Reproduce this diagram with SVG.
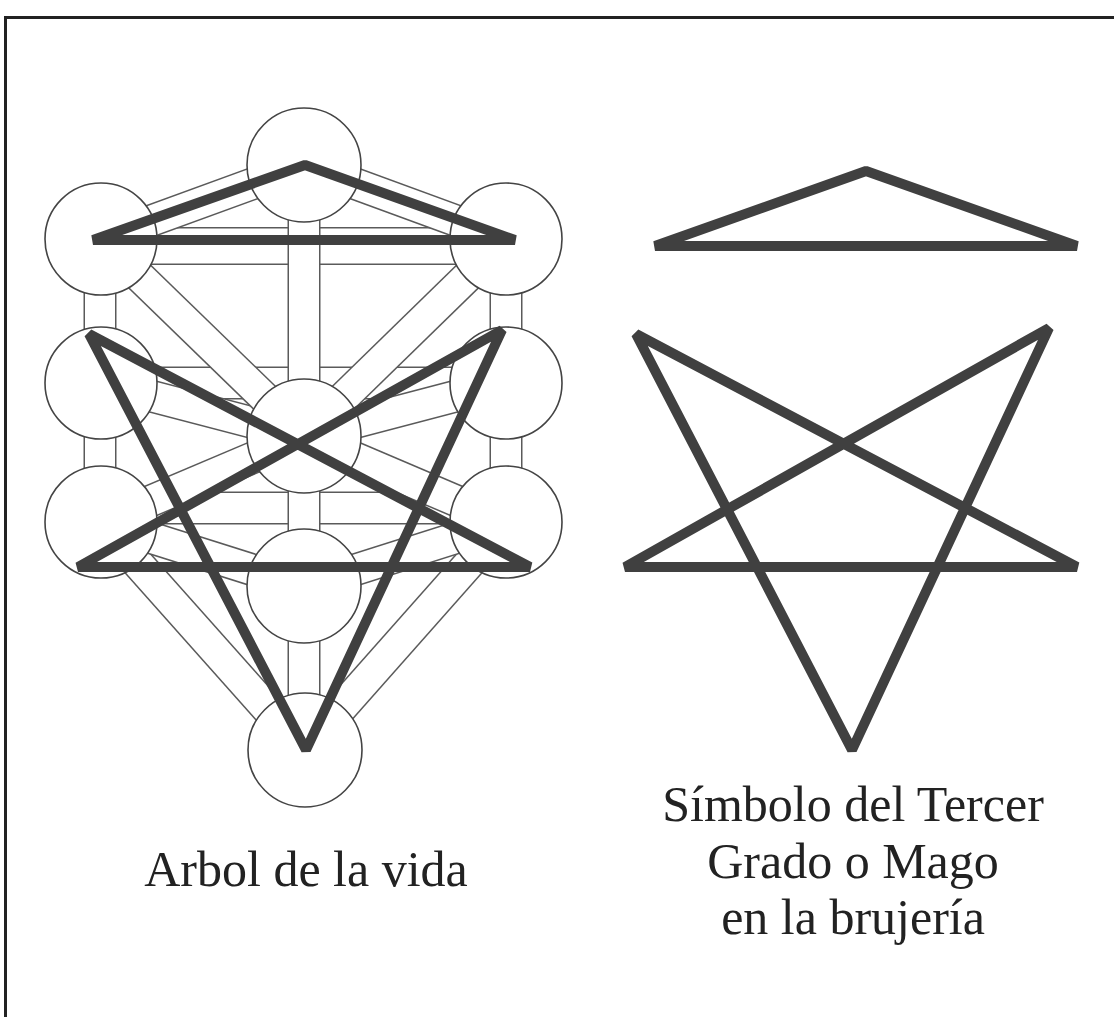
<svg xmlns="http://www.w3.org/2000/svg" width="1114" height="1017" viewBox="0 0 1114 1017">
<style>
.co{stroke:#5a5a5a;stroke-width:33;fill:none}
.ci{stroke:#fff;stroke-width:30;fill:none}
.sef{fill:#fff;stroke:#444;stroke-width:1.6}
.thick{fill:none;stroke:#404040;stroke-width:10;stroke-linejoin:bevel;stroke-linecap:butt}
.lbl{font-family:"Liberation Serif","Times New Roman",serif;font-size:50px;fill:#222;text-anchor:middle}
.frame{fill:none;stroke:#222;stroke-width:3}
</style>
<rect width="1114" height="1017" fill="#fff"/>
<path class="frame" d="M5.5,1017 V17.5 H1114"/>
<g id="connectors">
  <g id="ch-7-8"><line class="co" x1="101" y1="508" x2="506" y2="508"/><line class="ci" x1="101" y1="508" x2="506" y2="508"/></g>
  <g id="ch-4-5"><line class="co" x1="101" y1="383" x2="506" y2="383"/><line class="ci" x1="101" y1="383" x2="506" y2="383"/></g>
  <g id="ch-2-3"><line class="co" x1="101" y1="246" x2="506" y2="246" style="stroke-width:38"/><line class="ci" x1="101" y1="246" x2="506" y2="246" style="stroke-width:35"/></g>
  <g id="ch-7-10"><line class="co" x1="506" y1="522" x2="304" y2="750"/><line class="ci" x1="506" y1="522" x2="304" y2="750"/></g>
  <g id="ch-8-10"><line class="co" x1="101" y1="522" x2="304" y2="750"/><line class="ci" x1="101" y1="522" x2="304" y2="750"/></g>
  <g id="ch-7-9"><line class="co" x1="506" y1="522" x2="304" y2="586"/><line class="ci" x1="506" y1="522" x2="304" y2="586"/></g>
  <g id="ch-8-9"><line class="co" x1="101" y1="522" x2="304" y2="586"/><line class="ci" x1="101" y1="522" x2="304" y2="586"/></g>
  <g id="ch-6-7"><line class="co" x1="304" y1="436" x2="506" y2="522"/><line class="ci" x1="304" y1="436" x2="506" y2="522"/></g>
  <g id="ch-6-8"><line class="co" x1="304" y1="436" x2="101" y2="522"/><line class="ci" x1="304" y1="436" x2="101" y2="522"/></g>
  <g id="ch-4-6"><line class="co" x1="506" y1="383" x2="304" y2="436"/><line class="ci" x1="506" y1="383" x2="304" y2="436"/></g>
  <g id="ch-5-6"><line class="co" x1="101" y1="383" x2="304" y2="436"/><line class="ci" x1="101" y1="383" x2="304" y2="436"/></g>
  <g id="ch-2-6"><line class="co" x1="506" y1="239" x2="304" y2="436"/><line class="ci" x1="506" y1="239" x2="304" y2="436"/></g>
  <g id="ch-3-6"><line class="co" x1="101" y1="239" x2="304" y2="436"/><line class="ci" x1="101" y1="239" x2="304" y2="436"/></g>
  <g id="ch-1-2"><line class="co" x1="304" y1="165" x2="506" y2="239"/><line class="ci" x1="304" y1="165" x2="506" y2="239"/></g>
  <g id="ch-1-3"><line class="co" x1="304" y1="165" x2="101" y2="239"/><line class="ci" x1="304" y1="165" x2="101" y2="239"/></g>
  <g id="ch-1-6"><line class="co" x1="304" y1="165" x2="304" y2="436"/><line class="ci" x1="304" y1="165" x2="304" y2="436"/></g>
  <g id="ch-6-9"><line class="co" x1="304" y1="436" x2="304" y2="586"/><line class="ci" x1="304" y1="436" x2="304" y2="586"/></g>
  <g id="ch-9-10"><line class="co" x1="304" y1="586" x2="304" y2="750"/><line class="ci" x1="304" y1="586" x2="304" y2="750"/></g>
  <g id="ch-2-4"><line class="co" x1="506" y1="239" x2="506" y2="383"/><line class="ci" x1="506" y1="239" x2="506" y2="383"/></g>
  <g id="ch-3-5"><line class="co" x1="100" y1="239" x2="100" y2="383"/><line class="ci" x1="100" y1="239" x2="100" y2="383"/></g>
  <g id="ch-4-7"><line class="co" x1="506" y1="383" x2="506" y2="522"/><line class="ci" x1="506" y1="383" x2="506" y2="522"/></g>
  <g id="ch-5-8"><line class="co" x1="100" y1="383" x2="100" y2="522"/><line class="ci" x1="100" y1="383" x2="100" y2="522"/></g>
</g>
<g id="kether"><circle class="sef" cx="304" cy="165" r="57"/></g>
<g id="chokmah"><circle class="sef" cx="506" cy="239" r="56"/></g>
<g id="binah"><circle class="sef" cx="101" cy="239" r="56"/></g>
<g id="chesed"><circle class="sef" cx="506" cy="383" r="56"/></g>
<g id="geburah"><circle class="sef" cx="101" cy="383" r="56"/></g>
<g id="tiphareth"><circle class="sef" cx="304" cy="436" r="57"/></g>
<g id="netzach"><circle class="sef" cx="506" cy="522" r="56"/></g>
<g id="hod"><circle class="sef" cx="101" cy="522" r="56"/></g>
<g id="yesod"><circle class="sef" cx="304" cy="586" r="57"/></g>
<g id="malkuth"><circle class="sef" cx="305" cy="750" r="57"/></g>
<g id="tree-symbol">
  <path class="thick" d="M93,240 L305,165 L515,240 Z"/>
  <path class="thick" d="M89,334 L306,750 L502,330 L78,567 L530,567 Z"/>
</g>
<g id="mage-symbol">
  <path class="thick" d="M655,246 L866,171 L1077,246 Z"/>
  <path class="thick" d="M636,334 L852,750 L1049,328 L625,567 L1077,567 Z"/>
</g>
<g id="labels">
  <text class="lbl" x="306" y="886">Arbol de la vida</text>
  <text class="lbl" x="853" y="821">Símbolo del Tercer</text>
  <text class="lbl" x="853" y="878">Grado o Mago</text>
  <text class="lbl" x="853" y="934">en la brujería</text>
</g>
</svg>
